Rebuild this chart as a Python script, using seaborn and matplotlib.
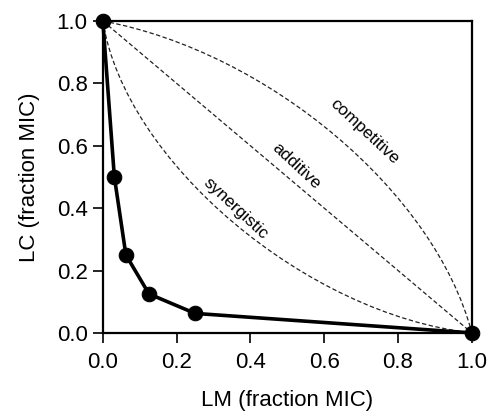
import pandas as pd
import seaborn as sns
from matplotlib import pyplot as plt
from matplotlib.path import Path
from matplotlib.patches import PathPatch

# measured isobologram points (fraction of MIC)
lm = [0.0, 0.03125, 0.0625, 0.125, 0.25, 1.0]
lc = [1.0, 0.5, 0.25, 0.125, 0.0625, 0.0]

# reference isoboles as cubic Bezier control points (start, c1, c2, end)
ref_names = ["synergistic", "additive", "competitive"]
ref_ctrl = {
    "synergistic": [(0, 1), (0.06, 0.55), (0.55, 0.06), (1, 0)],
    "additive": [(0, 1), (1 / 3, 2 / 3), (2 / 3, 1 / 3), (1, 0)],
    "competitive": [(0, 1), (0.45, 0.9), (0.9, 0.45), (1, 0)],
}
label_pos = {
    "synergistic": (0.36, 0.40),
    "additive": (0.525, 0.535),
    "competitive": (0.71, 0.645),
}

ticks = [0.0, 0.2, 0.4, 0.6, 0.8, 1.0]


def main():
    sns.set_theme(style="ticks")
    plt.rcParams["font.family"] = ["Liberation Sans", "DejaVu Sans"]

    fig = plt.figure(figsize=(4.92, 4.12), dpi=100)
    ax = fig.add_axes([0.209, 0.192, 0.75, 0.757])

    for name in ref_names:
        path = Path(ref_ctrl[name], [Path.MOVETO, Path.CURVE4, Path.CURVE4, Path.CURVE4])
        ax.add_patch(PathPatch(path, fill=False, edgecolor="#222222",
                               lw=0.9, linestyle=(0, (3.5, 2))))
        x, y = label_pos[name]
        ax.text(x, y, name, rotation=-43, ha="center", va="center",
                fontsize=12.5, color="black", rotation_mode="anchor")

    df = pd.DataFrame({"LM": lm, "LC": lc})
    sns.lineplot(data=df, x="LM", y="LC", sort=False, color="black", lw=2.6,
                 marker="o", markersize=10.5, markeredgecolor="black",
                 ax=ax, clip_on=False, zorder=5)

    ax.set_xlim(0, 1)
    ax.set_ylim(0, 1)
    ax.set_xticks(ticks)
    ax.set_yticks(ticks)
    ax.set_xticklabels([f"{t:.1f}" for t in ticks])
    ax.set_yticklabels([f"{t:.1f}" for t in ticks])
    ax.tick_params(labelsize=16, length=7, width=1.2, color="black",
                   labelcolor="black", top=False, right=False)
    ax.tick_params(axis="x", pad=7)
    ax.tick_params(axis="y", pad=4)
    for s in ax.spines.values():
        s.set_linewidth(1.6)
        s.set_color("black")
    ax.set_xlabel("LM (fraction MIC)", fontsize=16, color="black", labelpad=12)
    ax.set_ylabel("LC (fraction MIC)", fontsize=16, color="black", labelpad=12)

    fig.savefig("out.png", dpi=100)


if __name__ == "__main__":
    main()
